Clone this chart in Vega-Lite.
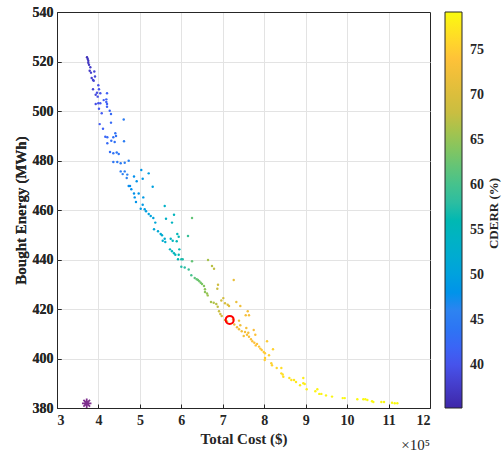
{
  "$schema": "https://vega.github.io/schema/vega-lite/v6.json",
  "width": 373,
  "height": 396,
  "autosize": {"type": "none"},
  "padding": {"left": 57, "top": 12, "right": 74, "bottom": 46},
  "background": "white",
  "title": {"text": "×10⁵", "orient": "bottom", "anchor": "end", "frame": "group", "fontSize": 15, "fontWeight": "normal", "font": "Liberation Serif", "color": "#262626", "offset": -8},
  "config": {
    "font": "Liberation Serif",
    "view": {"stroke": null},
    "axis": {
      "labelFont": "Liberation Serif", "labelFontSize": 14, "labelFontWeight": "bold", "labelColor": "#262626",
      "titleFont": "Liberation Serif", "titleFontSize": 15, "titleFontWeight": "bold", "titleColor": "#262626",
      "gridWidth": 1, "domain": false, "tickColor": "#262626", "tickSize": -4, "labelPadding": 9, "titlePadding": 4
    },
    "legend": {
      "labelFont": "Liberation Serif", "labelFontSize": 14, "labelFontWeight": "bold", "labelColor": "#262626"
    }
  },
  "resolve": {"scale": {"y": "independent"}, "axis": {"y": "independent"}},
  "datasets": {
    "pareto": [
      {"cost":372400,"energy":521.7,"cderr":36.5},{"cost":374100,"energy":521.0,"cderr":36.7},{"cost":375500,"energy":520.3,"cderr":36.8},{"cost":375500,"energy":519.5,"cderr":37},{"cost":377200,"energy":518.7,"cderr":37.1},{"cost":380400,"energy":517.7,"cderr":37.5},{"cost":378900,"energy":516.3,"cderr":37.5},{"cost":382000,"energy":515.5,"cderr":37.8},{"cost":390000,"energy":516.0,"cderr":38.5},{"cost":391700,"energy":513.9,"cderr":38.5},{"cost":383700,"energy":513.3,"cderr":38},{"cost":386900,"energy":512.5,"cderr":38.3},{"cost":388600,"energy":512.2,"cderr":38.4},{"cost":399700,"energy":510.4,"cderr":39.7},{"cost":386900,"energy":508.8,"cderr":38.5},{"cost":401300,"energy":508.8,"cderr":39.9},{"cost":396500,"energy":507.4,"cderr":39.5},{"cost":404500,"energy":507.2,"cderr":40},{"cost":420700,"energy":507.2,"cderr":41.5},{"cost":393400,"energy":506.6,"cderr":39},{"cost":398200,"energy":505.8,"cderr":39.5},{"cost":412700,"energy":504.4,"cderr":41},{"cost":419000,"energy":504.7,"cderr":41.5},{"cost":419000,"energy":503.6,"cderr":41.5},{"cost":399700,"energy":503.1,"cderr":40},{"cost":393400,"energy":502.8,"cderr":39.5},{"cost":404500,"energy":503.1,"cderr":40.5},{"cost":420700,"energy":502.8,"cderr":41.5},{"cost":420700,"energy":501.7,"cderr":41.5},{"cost":401300,"energy":500.9,"cderr":40.5},
      {"cost":427200,"energy":500.1,"cderr":42},{"cost":407900,"energy":499.1,"cderr":41},{"cost":430300,"energy":498.8,"cderr":42.5},{"cost":461000,"energy":496.6,"cderr":45},{"cost":430300,"energy":495.3,"cderr":42.5},{"cost":403000,"energy":494.7,"cderr":41},{"cost":411000,"energy":492.8,"cderr":41.5},{"cost":416600,"energy":489.6,"cderr":42},{"cost":421400,"energy":489.4,"cderr":42.5},{"cost":440700,"energy":491.0,"cderr":43.5},{"cost":442400,"energy":489.9,"cderr":43.5},{"cost":435900,"energy":489.4,"cderr":43.2},{"cost":431000,"energy":488.0,"cderr":43},{"cost":439200,"energy":487.5,"cderr":43.5},{"cost":421400,"energy":487.0,"cderr":42.5},{"cost":461700,"energy":487.8,"cderr":45},{"cost":427900,"energy":483.4,"cderr":43},{"cost":435900,"energy":482.9,"cderr":43.5},{"cost":444100,"energy":483.2,"cderr":44},{"cost":448900,"energy":482.6,"cderr":44.2},{"cost":435900,"energy":479.4,"cderr":44},{"cost":445500,"energy":479.4,"cderr":44.5},{"cost":453700,"energy":478.9,"cderr":44.8},{"cost":463400,"energy":479.1,"cderr":45.3},{"cost":473000,"energy":479.9,"cderr":46},{"cost":453700,"energy":475.6,"cderr":45},{"cost":463400,"energy":475.6,"cderr":45.5},{"cost":458500,"energy":474.5,"cderr":45.5},{"cost":469600,"energy":474.3,"cderr":46},{"cost":468200,"energy":472.9,"cderr":46},
      {"cost":485800,"energy":473.5,"cderr":47.5},{"cost":503400,"energy":476.2,"cderr":48.5},{"cost":521300,"energy":474.8,"cderr":49.5},{"cost":492300,"energy":471.6,"cderr":48},{"cost":506800,"energy":472.6,"cderr":48.7},{"cost":530900,"energy":469.4,"cderr":50},{"cost":473000,"energy":469.7,"cderr":47},{"cost":476200,"energy":469.7,"cderr":47.2},{"cost":479300,"energy":468.4,"cderr":47.4},{"cost":485800,"energy":466.7,"cderr":47.8},{"cost":497100,"energy":466.7,"cderr":48.3},{"cost":508200,"energy":465.1,"cderr":49},{"cost":487500,"energy":465.1,"cderr":48},{"cost":490600,"energy":463.2,"cderr":48.2},{"cost":506800,"energy":462.1,"cderr":49},{"cost":502000,"energy":460.5,"cderr":49},{"cost":511600,"energy":460.3,"cderr":49.5},{"cost":514800,"energy":459.5,"cderr":49.7},{"cost":521300,"energy":458.4,"cderr":50},{"cost":526100,"energy":457.6,"cderr":50.2},{"cost":532400,"energy":456.8,"cderr":50.5},{"cost":559900,"energy":461.6,"cderr":53.5},{"cost":563000,"energy":456.5,"cderr":53.5},{"cost":582300,"energy":458.1,"cderr":55},{"cost":625800,"energy":456.8,"cderr":62},{"cost":537200,"energy":454.9,"cderr":51},{"cost":577500,"energy":454.9,"cderr":54.5},{"cost":534100,"energy":452.2,"cderr":51},{"cost":543700,"energy":451.4,"cderr":51.5},{"cost":550200,"energy":450.3,"cderr":52},
      {"cost":553400,"energy":449.8,"cderr":52.2},{"cost":559900,"energy":448.4,"cderr":52.5},{"cost":555100,"energy":447.6,"cderr":52.3},{"cost":561300,"energy":447.1,"cderr":52.7},{"cost":574400,"energy":448.4,"cderr":54},{"cost":579200,"energy":447.6,"cderr":54.5},{"cost":590300,"energy":450.3,"cderr":55.5},{"cost":593700,"energy":449.2,"cderr":55.8},{"cost":588900,"energy":447.4,"cderr":55.5},{"cost":616100,"energy":449.5,"cderr":59},{"cost":572700,"energy":444.1,"cderr":54.5},{"cost":577500,"energy":443.3,"cderr":54.8},{"cost":582300,"energy":442.5,"cderr":55.1},{"cost":585500,"energy":441.9,"cderr":55.5},{"cost":595100,"energy":444.1,"cderr":56},{"cost":593700,"energy":441.9,"cderr":56},{"cost":592000,"energy":440.1,"cderr":56},{"cost":600000,"energy":440.1,"cderr":56.7},{"cost":603300,"energy":440.1,"cderr":57},{"cost":625800,"energy":439.3,"cderr":62},{"cost":664400,"energy":439.8,"cderr":66},{"cost":600000,"energy":437.1,"cderr":57.2},{"cost":608200,"energy":436.8,"cderr":57.8},{"cost":617800,"energy":436.0,"cderr":59},{"cost":624100,"energy":433.6,"cderr":60},{"cost":632300,"energy":432.5,"cderr":61.5},{"cost":637100,"energy":432.0,"cderr":62},{"cost":640200,"energy":431.7,"cderr":62.5},{"cost":643400,"energy":431.2,"cderr":63},{"cost":646800,"energy":430.6,"cderr":63},
      {"cost":649900,"energy":430.1,"cderr":63.5},{"cost":654700,"energy":429.3,"cderr":64},{"cost":674000,"energy":437.4,"cderr":67},{"cost":678900,"energy":436.3,"cderr":67.5},{"cost":688500,"energy":429.8,"cderr":68.5},{"cost":686800,"energy":428.2,"cderr":68},{"cost":657100,"energy":428.0,"cderr":64.5},{"cost":657100,"energy":426.9,"cderr":64.5},{"cost":662000,"energy":426.3,"cderr":65},{"cost":663700,"energy":425.5,"cderr":65.5},{"cost":726400,"energy":431.7,"cderr":71.5},{"cost":671600,"energy":422.8,"cderr":66},{"cost":678100,"energy":422.5,"cderr":66.5},{"cost":684400,"energy":422.0,"cderr":67},{"cost":687800,"energy":420.9,"cderr":67.5},{"cost":705400,"energy":422.3,"cderr":69.5},{"cost":711900,"energy":421.7,"cderr":70},{"cost":715100,"energy":421.2,"cderr":70.3},{"cost":732700,"energy":422.8,"cderr":71.8},{"cost":742300,"energy":421.2,"cderr":72.3},{"cost":760200,"energy":419.1,"cderr":73},{"cost":755400,"energy":417.5,"cderr":72.8},{"cost":763300,"energy":417.5,"cderr":73.2},{"cost":690900,"energy":419.1,"cderr":68},{"cost":694100,"energy":418.0,"cderr":68.5},{"cost":697400,"energy":417.2,"cderr":69},{"cost":705400,"energy":415.6,"cderr":69.5},{"cost":710200,"energy":415.0,"cderr":70},{"cost":724700,"energy":415.8,"cderr":71.3},{"cost":739200,"energy":415.3,"cderr":72},
      {"cost":742300,"energy":413.4,"cderr":72.3},{"cost":727800,"energy":413.7,"cderr":71.5},{"cost":734400,"energy":412.6,"cderr":72},{"cost":739200,"energy":411.8,"cderr":72},{"cost":745700,"energy":411.0,"cderr":72.5},{"cost":753700,"energy":410.7,"cderr":72.8},{"cost":756800,"energy":412.3,"cderr":72.8},{"cost":761600,"energy":410.4,"cderr":73},{"cost":774700,"energy":411.5,"cderr":73.5},{"cost":750500,"energy":409.1,"cderr":72.5},{"cost":758500,"energy":409.6,"cderr":73},{"cost":763300,"energy":408.8,"cderr":73.2},{"cost":768100,"energy":407.8,"cderr":73.4},{"cost":771300,"energy":407.0,"cderr":73.5},{"cost":776100,"energy":406.4,"cderr":73.7},{"cost":779500,"energy":405.3,"cderr":73.8},{"cost":782600,"energy":405.9,"cderr":74},{"cost":787400,"energy":404.8,"cderr":74.2},{"cost":790600,"energy":404.0,"cderr":74.3},{"cost":794000,"energy":403.4,"cderr":74.5},{"cost":798800,"energy":402.6,"cderr":74.7},{"cost":801900,"energy":402.1,"cderr":74.8},{"cost":806800,"energy":407.0,"cderr":75},{"cost":821200,"energy":403.7,"cderr":75.5},{"cost":801900,"energy":400.2,"cderr":75},{"cost":811600,"energy":401.3,"cderr":75.2},{"cost":701300,"energy":424.4,"cderr":69},{"cost":696500,"energy":423.4,"cderr":68.7},{"cost":778500,"energy":409.6,"cderr":73.8},{"cost":801200,"energy":399.4,"cderr":75},
      {"cost":817100,"energy":398.1,"cderr":75.5},{"cost":818800,"energy":397.3,"cderr":75.5},{"cost":830200,"energy":396.2,"cderr":76},{"cost":841300,"energy":396.2,"cderr":76.5},{"cost":841300,"energy":394.0,"cderr":76.5},{"cost":844600,"energy":393.5,"cderr":76.6},{"cost":846100,"energy":392.6,"cderr":76.7},{"cost":860600,"energy":392.1,"cderr":77},{"cost":865400,"energy":391.3,"cderr":77.2},{"cost":871900,"energy":391.3,"cderr":77.3},{"cost":876700,"energy":390.5,"cderr":77.5},{"cost":894300,"energy":392.1,"cderr":78},{"cost":894300,"energy":390.0,"cderr":78},{"cost":897700,"energy":389.7,"cderr":78},{"cost":886400,"energy":389.2,"cderr":77.8},{"cost":902500,"energy":387.6,"cderr":78.2},{"cost":923300,"energy":386.8,"cderr":78.5},{"cost":928100,"energy":387.6,"cderr":78.5},{"cost":932900,"energy":385.7,"cderr":78.6},{"cost":937800,"energy":385.7,"cderr":78.6},{"cost":949100,"energy":385.1,"cderr":78.7},{"cost":963600,"energy":384.6,"cderr":78.8},{"cost":989400,"energy":384.0,"cderr":79},{"cost":994200,"energy":384.0,"cderr":79},{"cost":1024600,"energy":383.5,"cderr":79},{"cost":1039100,"energy":383.5,"cderr":79},{"cost":1044000,"energy":383.5,"cderr":79},{"cost":1048800,"energy":383.2,"cderr":79},{"cost":1060100,"energy":382.7,"cderr":79},{"cost":1063300,"energy":382.4,"cderr":79},{"cost":1082600,"energy":382.4,"cderr":79},{"cost":1089100,"energy":382.4,"cderr":79},{"cost":1108400,"energy":382.1,"cderr":79},{"cost":1114900,"energy":381.9,"cderr":79},{"cost":1121200,"energy":381.9,"cderr":79}
    ],
    "selected": [{"cost": 716700, "energy": 415.6}],
    "ideal": [{"cost": 371700, "energy": 381.9}]
  },
  "encoding": {
    "x": {"field": "cost", "type": "quantitative",
      "scale": {"domain": [300000, 1200000], "nice": false, "zero": false},
      "axis": {"values": [300000,400000,500000,600000,700000,800000,900000,1000000,1100000,1200000], "labelExpr": "datum.value / 100000", "title": "Total Cost ($)",
        "gridColor": {"condition": {"test": "datum.value === 300000 || datum.value === 1200000", "value": "#262626"}, "value": "#e3e3e3"}}},
    "y": {"field": "energy", "type": "quantitative",
      "scale": {"domain": [380, 540], "nice": false, "zero": false},
      "axis": {"values": [380,400,420,440,460,480,500,520,540], "title": "Bought Energy (MWh)", "labelPadding": 8,
        "gridColor": {"condition": {"test": "datum.value === 380 || datum.value === 540", "value": "#262626"}, "value": "#e3e3e3"}}}
  },
  "layer": [
    {
      "data": {"name": "pareto"},
      "mark": {"type": "point", "filled": true, "size": 6, "opacity": 1},
      "encoding": {
        "color": {"field": "cderr", "type": "quantitative",
          "scale": {"domain": [35.2, 40.7, 46.2, 51.7, 57.2, 62.7, 68.2, 73.7, 79.2],
                    "range": ["#3e26a8", "#465af5", "#2e84f0", "#0eaad2", "#26bba8", "#6ec56f", "#ccbd40", "#fdbf3a", "#f9fb0e"]},
          "legend": {"orient": "none", "legendX": 388, "legendY": 0, "direction": "vertical",
            "gradientLength": 396, "gradientThickness": 17, "gradientStrokeColor": "#262626", "gradientStrokeWidth": 1,
            "values": [40, 45, 50, 55, 60, 65, 70, 75], "labelOffset": 8, "title": null}}
      }
    },
    {
      "data": {"name": "selected"},
      "mark": {"type": "point", "filled": false, "stroke": "#ff0000", "strokeWidth": 2, "size": 64, "opacity": 1},
      "encoding": {
        "y": {"field": "energy", "type": "quantitative",
          "scale": {"domain": [380, 540], "nice": false, "zero": false},
          "axis": {"orient": "right", "title": "CDERR (%)", "labels": false, "ticks": false, "grid": false, "domain": false,
            "titleFontSize": 13, "titleAngle": 270, "titleAlign": "center", "titleBaseline": "middle", "titleX": 63, "titleY": 201}}
      }
    },
    {
      "data": {"name": "ideal"},
      "mark": {"type": "point", "filled": false, "shape": "M0,-1L0,1M-1,0L1,0M-0.7,-0.7L0.7,0.7M-0.7,0.7L0.7,-0.7", "stroke": "#7e2f8e", "strokeWidth": 1.8, "size": 90, "opacity": 1}
    }
  ]
}
